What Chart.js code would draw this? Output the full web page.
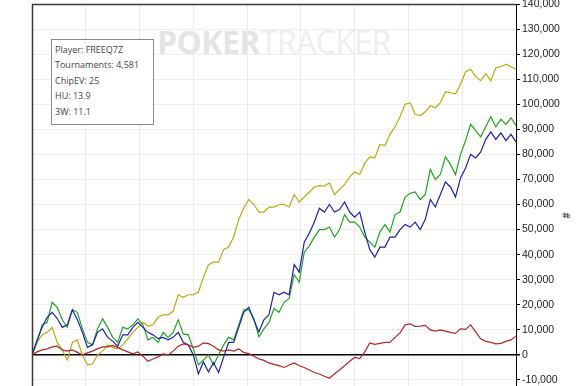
<!DOCTYPE html>
<html>
<head>
<meta charset="utf-8">
<script src="https://cdn.jsdelivr.net/npm/chart.js@4.4.1/dist/chart.umd.min.js"></script>
<style>
  html, body { margin: 0; padding: 0; background: #fff; overflow: hidden; }
  #wrap { position: relative; width: 579px; height: 386px; }
  #mark { position: absolute; left: 157px; top: 20px; font-family: "Open Sans", sans-serif; font-size: 32px; letter-spacing: -0.6px; white-space: nowrap; }
  #mark b { color: #e4e4e4; font-weight: 700; }
  #mark span { color: #eeeeee; font-weight: 400; }
  #chart { position: absolute; left: 0; top: 0; }
  #info { position: absolute; left: 51px; top: 39px; width: 101px; height: 84px; border: 1px solid #8a8a8a; background: #fff;
          font-family: "Open Sans", sans-serif; font-size: 9px; color: #444; box-sizing: content-box; }
  #info div { position: absolute; left: 3px; white-space: nowrap; }
  #ytitle { position: absolute; left: 563px; top: 210px; font-family: "Liberation Sans", sans-serif; font-size: 10px; font-weight: bold; color: #333; transform: rotate(90deg); }
</style>
</head>
<body>
<div id="wrap">
  <div id="mark"><b>POKER</b><span>TRACKER</span></div>
  <canvas id="chart" width="579" height="386"></canvas>
  <div id="info">
    <div style="top:3px">Player: FREEQ7Z</div>
    <div style="top:18px">Tournaments: 4,581</div>
    <div style="top:34px">ChipEV: 25</div>
    <div style="top:49px">HU: 13.9</div>
    <div style="top:65px">3W: 11.1</div>
  </div>
  <div id="ytitle">#</div>
</div>
<script>
// cumulative chips (thousands), one value per sample step along the tournament axis
const yellowSeries = [0, 5, 8, 9, 11, 5, 2, -2, 5, 6, 0, -4, -3.6, 0, 1.5, 4, 3, 2.5, 4, 6.4,
  9, 11, 13, 11.5, 12, 15, 16, 16, 17.5, 24, 23, 24, 24, 25, 31, 36, 37, 37, 42, 43,
  47, 54, 58.5, 62, 60, 57, 57, 59, 59, 60, 60, 59, 64, 61, 63, 65, 67, 67.5, 67.4, 68.6,
  64, 66, 68, 71, 73, 72, 76.5, 79, 78.6, 84, 83.5, 88, 91, 95, 100, 100.5, 96, 95.5, 97, 99.4,
  98.6, 100.6, 105, 104.6, 104.2, 108, 113, 114, 111, 109.4, 112.2, 109.4, 114.6, 115, 116, 115, 114];

const greenSeries = [0, 5, 12, 13, 21, 19, 14, 11, 18, 17, 10.4, 5, 4, 10.4, 14.4, 11, 7, 5, 11, 10.4,
  12, 14.4, 12, 6, 7, 5, 9, 7, 9, 14, 8.4, 8, 2.4, -4, -2, 0, -4, 0, 4, 7,
  6, 12, 18, 18, 14.4, 7.2, 10.4, 13, 18.5, 17, 21, 22.5, 32, 29, 41, 43.5, 47, 50, 50, 51,
  47, 50, 56, 53, 53, 51, 47, 45, 43, 49, 52, 49, 56, 57, 63, 64.5, 65, 62, 64, 74,
  70, 72, 79, 76, 72, 80, 85.5, 92, 89.5, 87, 91, 95, 91, 94, 92, 94.6, 91.5];

const blueSeries = [0, 6, 11, 15, 17, 14.5, 11, 12, 18, 14, 9, 3, 4, 9, 10.4, 7, 5.5, 3.5, 8, 8,
  11, 13, 11, 9, 8, 6.5, 7, 6, 7, 9, 5, 4, 0, -7.6, -2.8, -6.8, -3, -7, -1, 5,
  5, 11, 17, 19, 14, 9.2, 14, 16, 25, 24, 25, 24, 36, 33, 45, 48.5, 53, 58.5, 57, 60,
  57, 58, 61, 57, 55, 57, 49, 42, 39, 43, 43, 47, 47, 50, 52, 51, 53, 50, 54, 62,
  59, 64, 69, 67, 63, 70.6, 74.6, 80, 78.6, 81, 86, 89, 86, 88.6, 85.5, 88, 85];

const redSeries = [0, 1.2, 2, 2.4, 3.2, 3.5, 2, 1.5, 2, 1, 0, 0.8, 1.5, 2.5, 3.2, 3.2, 3.8, 3, 2, 1.2,
  0.4, 1.2, -0.5, -2.5, -1.6, -0.8, 0.4, 0, 1.5, 3.5, 4.4, 4, 3, 3.5, 4.8, 4.5, 3.5, 2, 1.5, 2,
  1.5, 2.4, 1, 0.5, -0.5, -1.6, -2.2, -3.2, -3.8, -4.3, -5, -4, -3.2, -4.3, -5, -6, -7, -7.6, -8.5, -9.3,
  -7.5, -6, -4.3, -2.5, -1, -1.5, 1.2, 4.8, 4.2, 4.6, 5, 5, 7, 8.8, 12, 12.4, 11.4, 11.5, 11.8, 10,
  9.5, 10, 9.5, 9, 8.6, 10.4, 10.2, 12, 9.2, 6.4, 5.4, 5, 4.4, 4.6, 5.4, 6, 7.5];

const steps = yellowSeries.map((v, i) => i);
const yTicks = [-10, 0, 10, 20, 30, 40, 50, 60, 70, 80, 90, 100, 110, 120, 130, 140];
const xDivisions = 9;

// dark frame on the left and top of the plot
const framePlugin = {
  id: 'frame',
  afterDraw(chart) {
    const { ctx, chartArea: a } = chart;
    ctx.save();
    ctx.strokeStyle = '#3a3a3a';
    ctx.lineWidth = 1.5;
    ctx.beginPath();
    ctx.moveTo(a.left + 0.5, a.bottom + 4);
    ctx.lineTo(a.left + 0.5, a.top + 0.5);
    ctx.lineTo(a.right, a.top + 0.5);
    ctx.stroke();
    ctx.restore();
  }
};

function line(data, color) {
  return { data: data, borderColor: color, borderWidth: 1.2, pointRadius: 0, tension: 0, fill: false };
}

function noPad(s) {
  s.paddingTop = 0; s.paddingBottom = 0; s.paddingLeft = 0; s.paddingRight = 0;
}

new Chart(document.getElementById('chart'), {
  type: 'line',
  data: {
    labels: steps,
    datasets: [
      line(redSeries, '#b3262a'),
      line(blueSeries, '#1f1fae'),
      line(greenSeries, '#1fa51f'),
      line(yellowSeries, '#b5ad12')
    ]
  },
  options: {
    responsive: false,
    animation: false,
    events: [],
    layout: { autoPadding: false, padding: { left: 32, top: 4, right: 0, bottom: 0 } },
    plugins: { legend: { display: false }, tooltip: { enabled: false } },
    scales: {
      x: {
        type: 'linear',
        min: 0,
        max: steps.length - 1,
        afterBuildTicks: (s) => {
          s.ticks = Array.from({ length: xDivisions + 1 }, (_, k) => ({ value: (steps.length - 1) * k / xDivisions }));
        },
        afterFit: (s) => { s.height = 0; noPad(s); },
        ticks: { display: false },
        border: { display: false },
        grid: { color: '#ececec', lineWidth: 1, drawTicks: false }
      },
      y: {
        position: 'right',
        min: -12.4,
        max: 140,
        afterBuildTicks: (s) => { s.ticks = yTicks.map(v => ({ value: v })); },
        afterFit: (s) => { s.width = 63; noPad(s); },
        border: { color: '#000', width: 1 },
        grid: {
          color: (c) => c.tick && c.tick.value === 0 ? '#000' : '#efefef',
          lineWidth: (c) => c.tick && c.tick.value === 0 ? 1.5 : 1,
          tickColor: '#000',
          tickLength: 4
        },
        ticks: {
          color: '#222',
          padding: 2,
          font: { family: 'Liberation Sans', size: 10.5 },
          callback: (v) => (v * 1000).toLocaleString('en-US')
        }
      }
    }
  },
  plugins: [framePlugin]
});
</script>
</body>
</html>
